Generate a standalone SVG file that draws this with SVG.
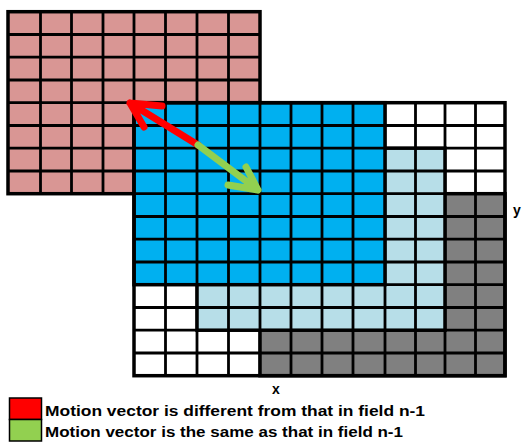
<svg xmlns="http://www.w3.org/2000/svg" width="522" height="442" viewBox="0 0 522 442">
<style>
.grid{fill:none;stroke:#000;stroke-width:2.8}
.border{fill:none;stroke:#000;stroke-width:3.5}
.lbl{font-family:"Liberation Sans",Arial,sans-serif;font-weight:bold;fill:#000}
.arr{fill:none;stroke-width:7;stroke-linecap:round;stroke-linejoin:round}
</style>
<rect width="522" height="442" fill="#fff"/>
<g id="field-n-minus-1">
<rect x="8" y="11.7" width="252" height="182" fill="#D99694"/>
<path class="grid" d="M40.5 11.7V193.7M71.5 11.7V193.7M103 11.7V193.7M134 11.7V193.7M165.5 11.7V193.7M197 11.7V193.7M228.5 11.7V193.7M8 34.5H260M8 57.2H260M8 80H260M8 102.7H260M8 125.5H260M8 148.2H260M8 171H260"/>
<rect class="border" x="8" y="11.7" width="252" height="182"/>
</g>
<g id="frame-grid">
<rect x="134" y="102.7" width="371" height="273" fill="#fff"/>
<path class="grid" d="M165.5 102.7V375.7M197 102.7V375.7M228.5 102.7V375.7M260 102.7V375.7M291 102.7V375.7M322 102.7V375.7M353 102.7V375.7M385 102.7V375.7M415.5 102.7V375.7M445 102.7V375.7M475.5 102.7V375.7M134 125.5H505M134 148.2H505M134 171H505M134 193.7H505M134 216.5H505M134 239.2H505M134 262H505M134 284.7H505M134 307.5H505M134 330.2H505M134 353H505"/>
</g>
<g id="gray-block">
<rect x="260" y="193.7" width="245" height="182" fill="#808080"/>
<path class="grid" d="M291 193.7V375.7M322 193.7V375.7M353 193.7V375.7M385 193.7V375.7M415.5 193.7V375.7M445 193.7V375.7M475.5 193.7V375.7M260 216.5H505M260 239.2H505M260 262H505M260 284.7H505M260 307.5H505M260 330.2H505M260 353H505"/>
<rect class="border" x="260" y="193.7" width="245" height="182"/>
</g>
<g id="lightblue-block">
<rect x="197" y="148.2" width="248" height="182" fill="#B7DEE8"/>
<path class="grid" d="M228.5 148.2V330.2M260 148.2V330.2M291 148.2V330.2M322 148.2V330.2M353 148.2V330.2M385 148.2V330.2M415.5 148.2V330.2M197 171H445M197 193.7H445M197 216.5H445M197 239.2H445M197 262H445M197 284.7H445M197 307.5H445"/>
<rect class="border" x="197" y="148.2" width="248" height="182"/>
</g>
<g id="blue-block">
<rect x="134" y="102.7" width="251" height="182" fill="#00B0F0"/>
<path class="grid" d="M165.5 102.7V284.7M197 102.7V284.7M228.5 102.7V284.7M260 102.7V284.7M291 102.7V284.7M322 102.7V284.7M353 102.7V284.7M134 125.5H385M134 148.2H385M134 171H385M134 193.7H385M134 216.5H385M134 239.2H385M134 262H385"/>
<path fill="none" stroke="#000" stroke-width="1.5" d="M197 148.2H385M197 148.2V284.7M260 102.7V284.7M134 193.7H385"/>
<rect class="border" x="134" y="102.7" width="251" height="182"/>
</g>
<g id="frame-border">
<rect class="border" x="134" y="102.7" width="371" height="273"/>
</g>
<g id="connectors">
<path class="arr" stroke="#FF0000" d="M198 145L130 103M162 106L130 103L144 127"/>
<path class="arr" stroke="#92D050" d="M198 145L258 190M246 167L258 190L228 185"/>
</g>
<g id="axis-labels">
<text class="lbl" x="276" y="394" font-size="14" text-anchor="middle">x</text>
<text class="lbl" x="513" y="215" font-size="14">y</text>
</g>
<g id="legend-different">
<rect x="9.5" y="398" width="32" height="21.5" fill="#FF0000" stroke="#000" stroke-width="1.5"/>
<text class="lbl" x="45" y="415.5" font-size="15" textLength="380" lengthAdjust="spacingAndGlyphs">Motion vector is different from that in field n-1</text>
</g>
<g id="legend-same">
<rect x="9.5" y="419.5" width="32" height="21.5" fill="#92D050" stroke="#000" stroke-width="1.5"/>
<text class="lbl" x="45" y="436.5" font-size="15" textLength="358" lengthAdjust="spacingAndGlyphs">Motion vector is the same as that in field n-1</text>
</g>
</svg>
